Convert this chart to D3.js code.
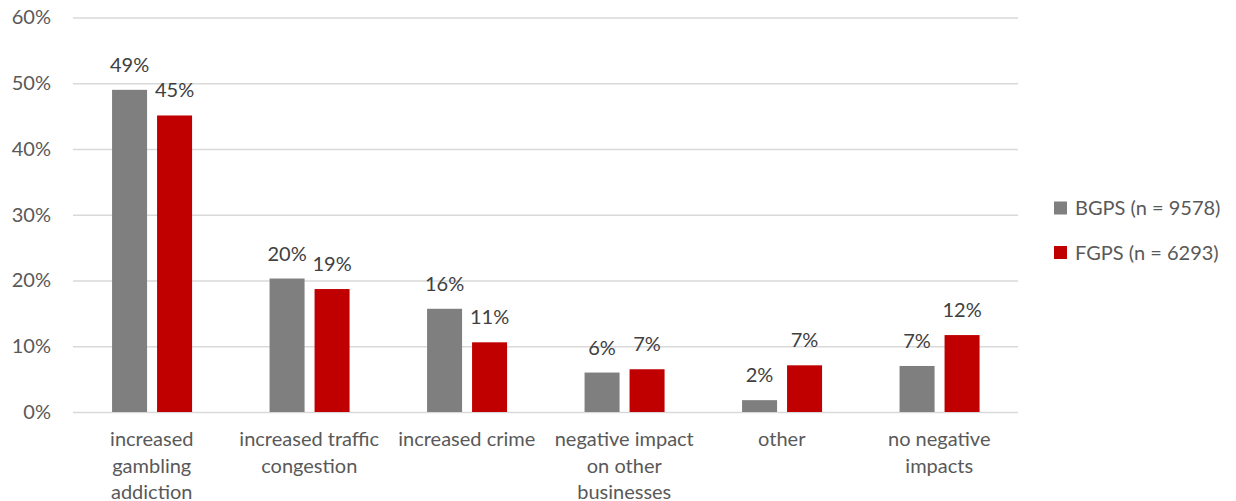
<!DOCTYPE html>
<html>
<head>
<meta charset="utf-8">
<script src="https://cdn.jsdelivr.net/npm/d3@7"></script>
<style>
  html, body { margin: 0; padding: 0; background: #ffffff; }
  svg { display: block; font-family: Lato, "Open Sans", sans-serif; }
</style>
</head>
<body>
<svg id="chart" width="1236" height="501"></svg>
<script>
// Perceived negative impacts of gambling venues, by survey
const categories = [
  "increased\ngambling\naddiction",
  "increased traffic\ncongestion",
  "increased crime",
  "negative impact\non other\nbusinesses",
  "other",
  "no negative\nimpacts"
];
const seriesNames = ["BGPS (n = 9578)", "FGPS (n = 6293)"];
const bgpsValues = [0.490, 0.203, 0.157, 0.060, 0.018, 0.070];
const fgpsValues = [0.451, 0.187, 0.106, 0.065, 0.071, 0.117];
const yTicks = [0, 0.1, 0.2, 0.3, 0.4, 0.5, 0.6];
const seriesColors = ["#7f7f7f", "#c00000"];

const seriesValues = [bgpsValues, fgpsValues];
const rows = categories.map((c, i) => ({
  category: c,
  values: seriesNames.map((s, j) => ({ series: s, value: seriesValues[j][i] }))
}));

const svg = d3.select("#chart");
const textColor = "#595959";
const fontSize = 20;
const fmt = d3.format(".0%");

const plot = { left: 73, right: 1018, top: 17.5, bottom: 412 };

const y = d3.scaleLinear().domain([0, 0.6]).range([plot.bottom, plot.top]);
const x0 = d3.scaleBand().domain(categories).range([plot.left, plot.right]).padding(0);
const bw = x0.bandwidth();
const x1 = d3.scaleBand().domain(seriesNames)
  .range([bw * 0.248, bw * 0.756]).paddingInner(0.222);
const color = d3.scaleOrdinal().domain(seriesNames).range(seriesColors);

// Horizontal gridlines (the 0% line doubles as the category axis)
const yAxis = d3.axisLeft(y).tickValues(yTicks).tickFormat(fmt)
  .tickSize(-(plot.right - plot.left)).tickPadding(22);
const gy = svg.append("g").attr("transform", `translate(${plot.left},0)`).call(yAxis);
gy.select(".domain").remove();
gy.selectAll(".tick line").attr("stroke", "#d9d9d9").attr("stroke-width", 1.4);
gy.selectAll(".tick text")
  .attr("fill", textColor)
  .attr("font-size", fontSize)
  .attr("font-family", "Lato, 'Open Sans', sans-serif");

// Bars
const groups = svg.append("g").selectAll("g")
  .data(rows).join("g")
  .attr("transform", d => `translate(${x0(d.category)},0)`);

groups.selectAll("rect")
  .data(d => d.values).join("rect")
  .attr("x", d => x1(d.series))
  .attr("width", x1.bandwidth())
  .attr("y", d => y(d.value))
  .attr("height", d => y(0) - y(d.value))
  .attr("fill", d => color(d.series));

// Value labels above bars
groups.selectAll("text.value")
  .data(d => d.values).join("text")
  .attr("class", "value")
  .attr("x", d => x1(d.series) + x1.bandwidth() / 2)
  .attr("y", d => y(d.value) - 18)
  .attr("text-anchor", "middle")
  .attr("fill", "#404040")
  .attr("font-size", fontSize)
  .text(d => fmt(d.value));

// Category labels (explicit line breaks)
const catLabels = svg.append("g").selectAll("text")
  .data(categories).join("text")
  .attr("x", d => x0(d) + bw / 2)
  .attr("y", 446)
  .attr("text-anchor", "middle")
  .attr("fill", textColor)
  .attr("font-size", fontSize);
catLabels.selectAll("tspan")
  .data(d => d.split("\n")).join("tspan")
  .attr("x", function() { return d3.select(this.parentNode).attr("x"); })
  .attr("dy", (d, i) => i === 0 ? 0 : 26.5)
  .text(d => d);

// Legend
const legend = svg.append("g").attr("transform", "translate(1054,0)");
const legendRows = legend.selectAll("g")
  .data(seriesNames).join("g")
  .attr("transform", (d, i) => `translate(0,${208 + i * 44.5})`);
legendRows.append("rect")
  .attr("x", 0).attr("y", -6.5)
  .attr("width", 13).attr("height", 13)
  .attr("fill", d => color(d));
legendRows.append("text")
  .attr("x", 21).attr("y", 7)
  .attr("fill", textColor)
  .attr("font-size", fontSize)
  .text(d => d);
</script>
</body>
</html>
